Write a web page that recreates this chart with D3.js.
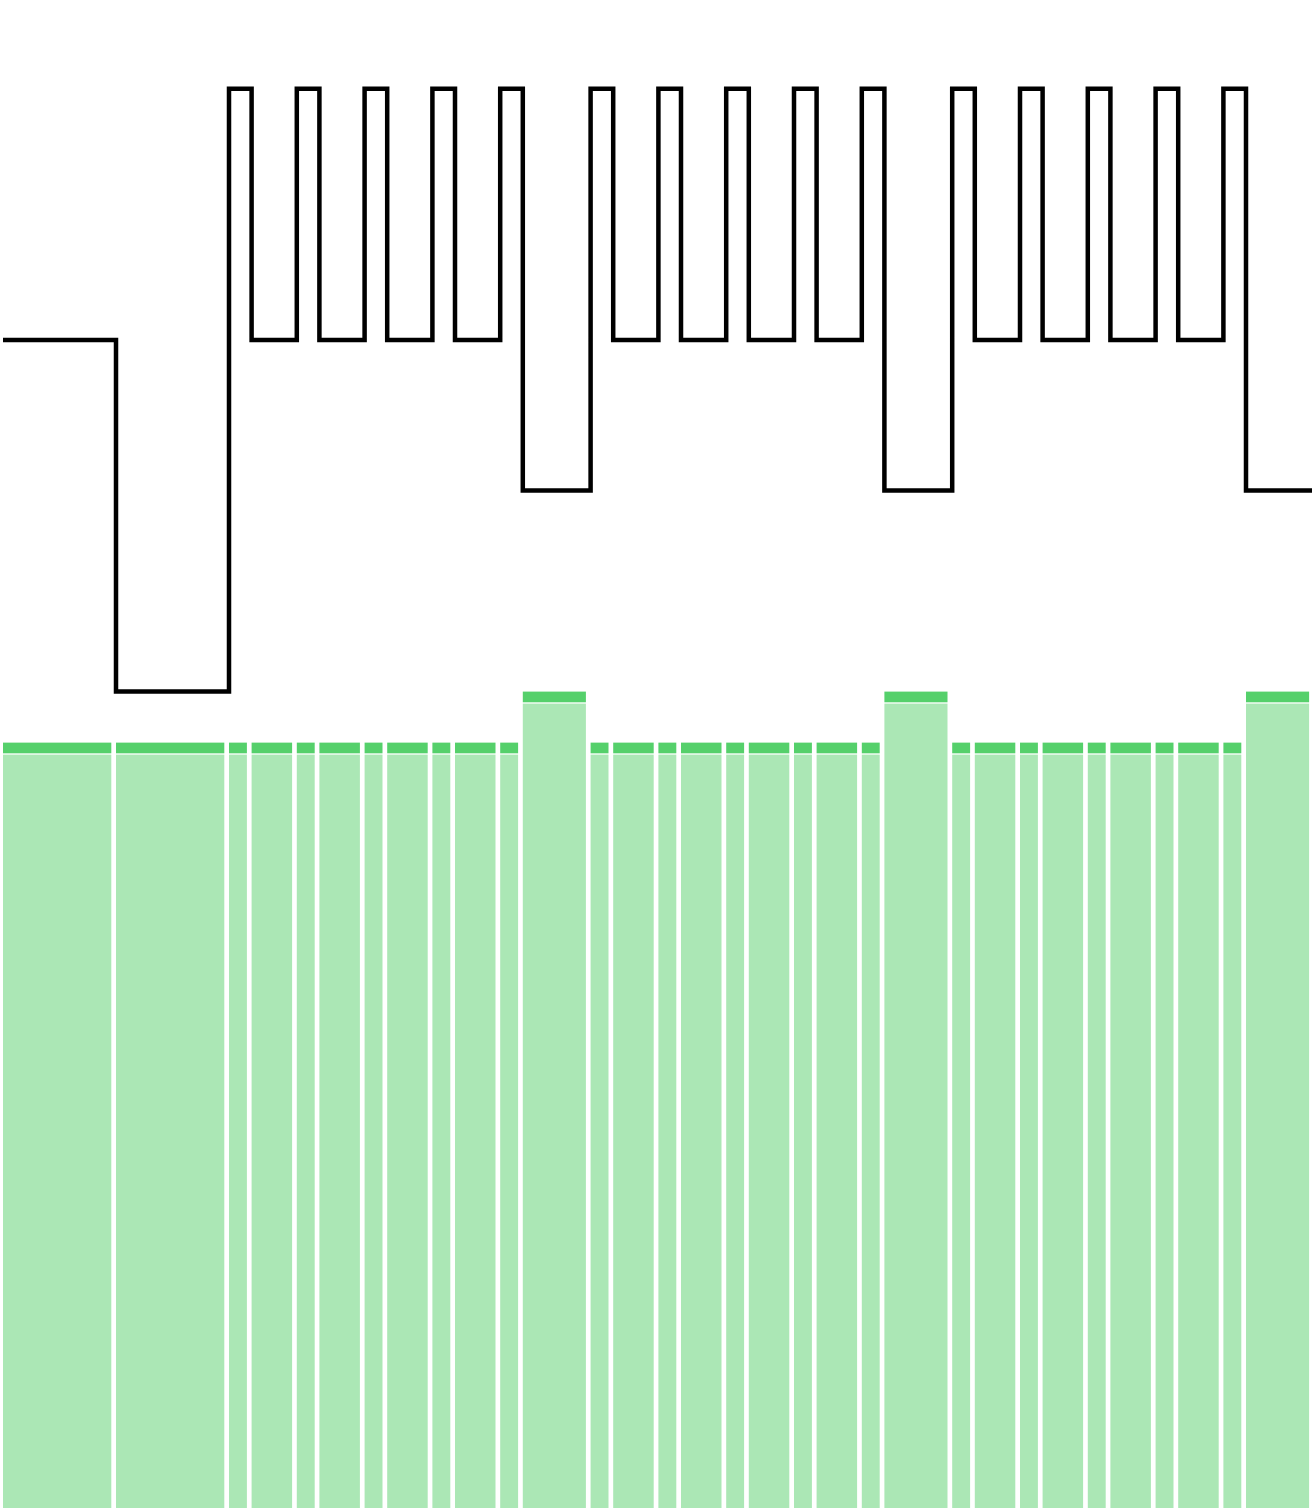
<!DOCTYPE html>
<html>
<head>
<meta charset="utf-8">
<script src="https://cdn.jsdelivr.net/npm/d3@7"></script>
<style>
  html, body { margin: 0; padding: 0; background: #ffffff; overflow: hidden; }
  svg { display: block; }
</style>
</head>
<body>
<svg id="chart" width="1312" height="1508"></svg>
<script>
// Note durations (in sixteenth-note units)
const durations = [5, 5,
  1, 2, 1, 2, 1, 2, 1, 2, 1, 3,
  1, 2, 1, 2, 1, 2, 1, 2, 1, 3,
  1, 2, 1, 2, 1, 2, 1, 2, 1, 3];
// MIDI pitches of each note
const pitches = [67, 60,
  72, 67, 72, 67, 72, 67, 72, 67, 72, 64,
  72, 67, 72, 67, 72, 67, 72, 67, 72, 64,
  72, 67, 72, 67, 72, 67, 72, 67, 72, 64];
// Velocities (0..1)
const velocities = [0.75, 0.75,
  0.75, 0.75, 0.75, 0.75, 0.75, 0.75, 0.75, 0.75, 0.75, 0.8,
  0.75, 0.75, 0.75, 0.75, 0.75, 0.75, 0.75, 0.75, 0.75, 0.8,
  0.75, 0.75, 0.75, 0.75, 0.75, 0.75, 0.75, 0.75, 0.75, 0.8];

const starts = [];
let acc = 0;
durations.forEach(d => { starts.push(acc); acc += d; });
const total = acc;

const notes = durations.map((d, i) => ({
  start: starts[i], end: starts[i] + d, pitch: pitches[i], vel: velocities[i]
}));

const svg = d3.select("#chart");
const unit = 22.6;
const x = d3.scaleLinear().domain([0, total]).range([3, 3 + total * unit]);
const yPitch = d3.scaleLinear().domain([60, 72]).range([691.5, 88.8]);
const yVel = d3.scaleLinear().domain([0, 1]).range([1508, 487.5]);

const gap = 4.7;
const capH = 10.7;
const capGap = 1.3;

const bars = svg.append("g").attr("class", "bars");
bars.selectAll("rect.body")
  .data(notes)
  .join("rect")
  .attr("class", "body")
  .attr("x", d => x(d.start))
  .attr("y", d => yVel(d.vel) + capH + capGap)
  .attr("width", d => x(d.end) - x(d.start) - gap)
  .attr("height", d => yVel(0) - (yVel(d.vel) + capH + capGap) + 10)
  .attr("fill", "#abe7b5");
bars.selectAll("rect.cap")
  .data(notes)
  .join("rect")
  .attr("class", "cap")
  .attr("x", d => x(d.start))
  .attr("y", d => yVel(d.vel))
  .attr("width", d => x(d.end) - x(d.start) - gap)
  .attr("height", capH)
  .attr("fill", "#55d06b");

const pts = notes.map(d => [d.start, d.pitch]);
pts.push([total, notes[notes.length - 1].pitch]);
const line = d3.line()
  .x(d => x(d[0]))
  .y(d => yPitch(d[1]))
  .curve(d3.curveStepAfter);
svg.append("path")
  .attr("d", line(pts))
  .attr("fill", "none")
  .attr("stroke", "#000")
  .attr("stroke-width", 4.5)
  .attr("stroke-linejoin", "miter")
  .attr("stroke-linecap", "butt");
</script>
</body>
</html>
